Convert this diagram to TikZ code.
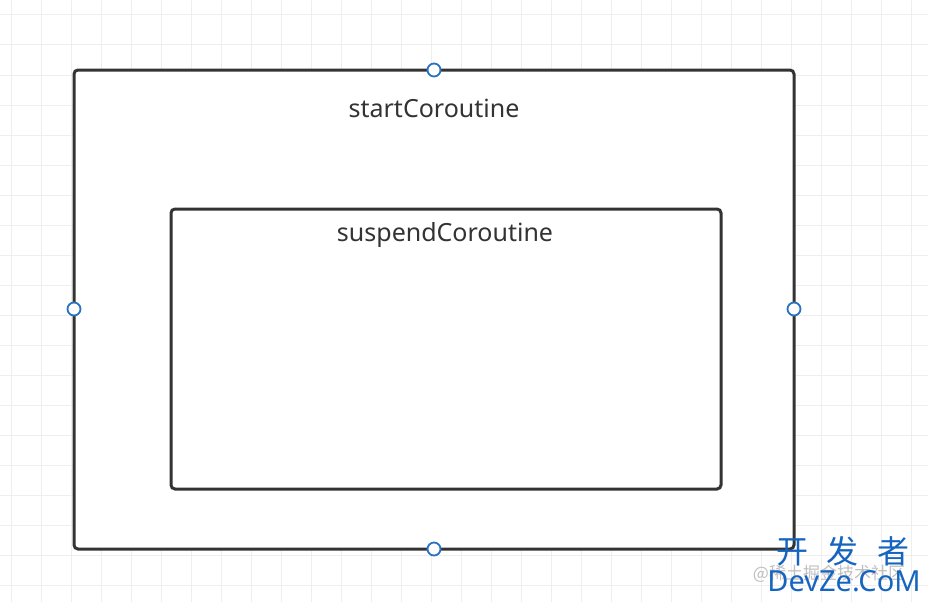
\documentclass[tikz,border=0pt]{standalone}
\usepackage{fontspec}
\setmainfont{Noto Sans}
\newfontfamily\cjk{Noto Sans CJK SC}
\usetikzlibrary{positioning}
\definecolor{frame}{HTML}{333333}
\definecolor{handle}{HTML}{2A72C0}
\definecolor{gridc}{HTML}{EEEEEE}
\definecolor{mark}{HTML}{1565C0}

\begin{document}
\begin{tikzpicture}[
x=1pt,y=-1pt,
box/.style={draw=frame,line width=3pt,rounded corners=4pt},
lbl/.style={font=\fontsize{25}{28}\selectfont,text=frame,inner sep=0pt,anchor=base},
knob/.style={circle,draw=handle,fill=white,line width=1.8pt,minimum size=13pt,inner sep=0pt}
]
\useasboundingbox (0,0) rectangle (928,602);
\fill[white] (0,0) rectangle (928,602);
% background grid
\foreach \gx in {11,41,...,911} \draw[gridc,line width=1pt] (\gx,0) -- (\gx,602);
\foreach \gy in {15,45,...,600} \draw[gridc,line width=1pt] (0,\gy) -- (928,\gy);

% outer and inner frames
\draw[box,fill=white] (74,70) rectangle (794,549);
\draw[box,fill=white] (171,209) rectangle (721,489);
\node[lbl] (start) at (434,117) {startCoroutine};
\node[lbl] (suspend) at (445,241) {suspendCoroutine};

% selection handles
\foreach \hx/\hy/\hn in {434/70/top,74/309/left,794/309/right,434/549/bottom}
  \node[knob] (\hn) at (\hx,\hy) {};

% watermark
\node[font=\cjk\fontsize{17}{18}\selectfont,text=gray!50,inner sep=0pt] (src) at (829,574) {@稀土掘金技术社区};
\node[font=\cjk\fontsize{32}{34}\selectfont,text=mark,inner sep=0pt] (brand) at (843,551) {开\hspace{19pt}发\hspace{19pt}者};
\node[font=\fontsize{29}{30}\selectfont,text=mark,inner sep=0pt] (site) at (844,581) {DevZe.CoM};
\end{tikzpicture}
\end{document}
